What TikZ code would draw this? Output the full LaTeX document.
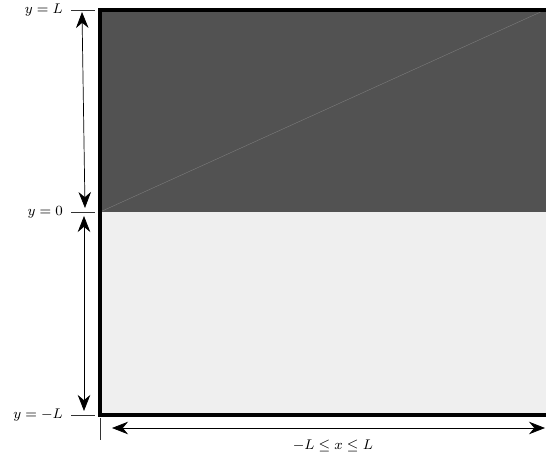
\documentclass[tikz,border=0pt]{standalone}
\usepackage{tikz}
\usetikzlibrary{arrows.meta,positioning,calc}
\definecolor{slab}{RGB}{82,82,82}
\definecolor{fluid}{RGB}{239,239,239}
\definecolor{ink}{RGB}{0,0,0}
\tikzset{
  >={Stealth[length=3.2mm,width=2.5mm]},
  wall/.style={line width=1.8pt,draw=ink},
  dim/.style={<->,thin,draw=ink},
  tick/.style={thin,draw=ink!80},
  tag/.style={font=\footnotesize,anchor=east,inner sep=1pt},
}
\begin{document}
\begin{tikzpicture}[x=0.02cm,y=0.02cm]
    \useasboundingbox (0,0) rectangle (546,462);
    % corners of the box (pixel-like units, y upwards)
    \coordinate (tl) at (100,452);
    \coordinate (ml) at (100,250);
    \coordinate (bl) at (100,47);
    \coordinate (tr) at (546,452);
    \coordinate (mr) at (546,250);
    \coordinate (br) at (546,47);
    % two layers
    \fill[slab] (ml) rectangle (tr);
    \fill[fluid] (bl) rectangle (mr);
    \draw[gray,very thin] (ml) -- (545,452);
    \draw[wall] (tr) -- (tl) -- (bl) -- (br);
    % level ticks and labels
    \foreach \lev/\txt in {452/{$y=L$},250/{$y=0$},47/{$y=-L$}} {
      \draw[tick] (71,\lev) -- (95,\lev);
      \node[tag] at (65,\lev) {\txt};
    }
    % vertical dimensions
    \coordinate (a1) at (82,450);
    \coordinate (a2) at (85,254);
    \coordinate (b1) at (84,246);
    \coordinate (b2) at (84,51);
    \draw[dim] (a1) -- (a2);
    \draw[dim] (b1) -- (b2);
    % horizontal dimension
    \draw[tick] (100,44) -- (100,22);
    \coordinate (c1) at (112,34);
    \coordinate (c2) at (545,34);
    \draw[dim] (c1) -- (c2) node[pos=0.51,below=3pt,font=\footnotesize] (xr) {$-L\le x\le L$};
\end{tikzpicture}
\end{document}
